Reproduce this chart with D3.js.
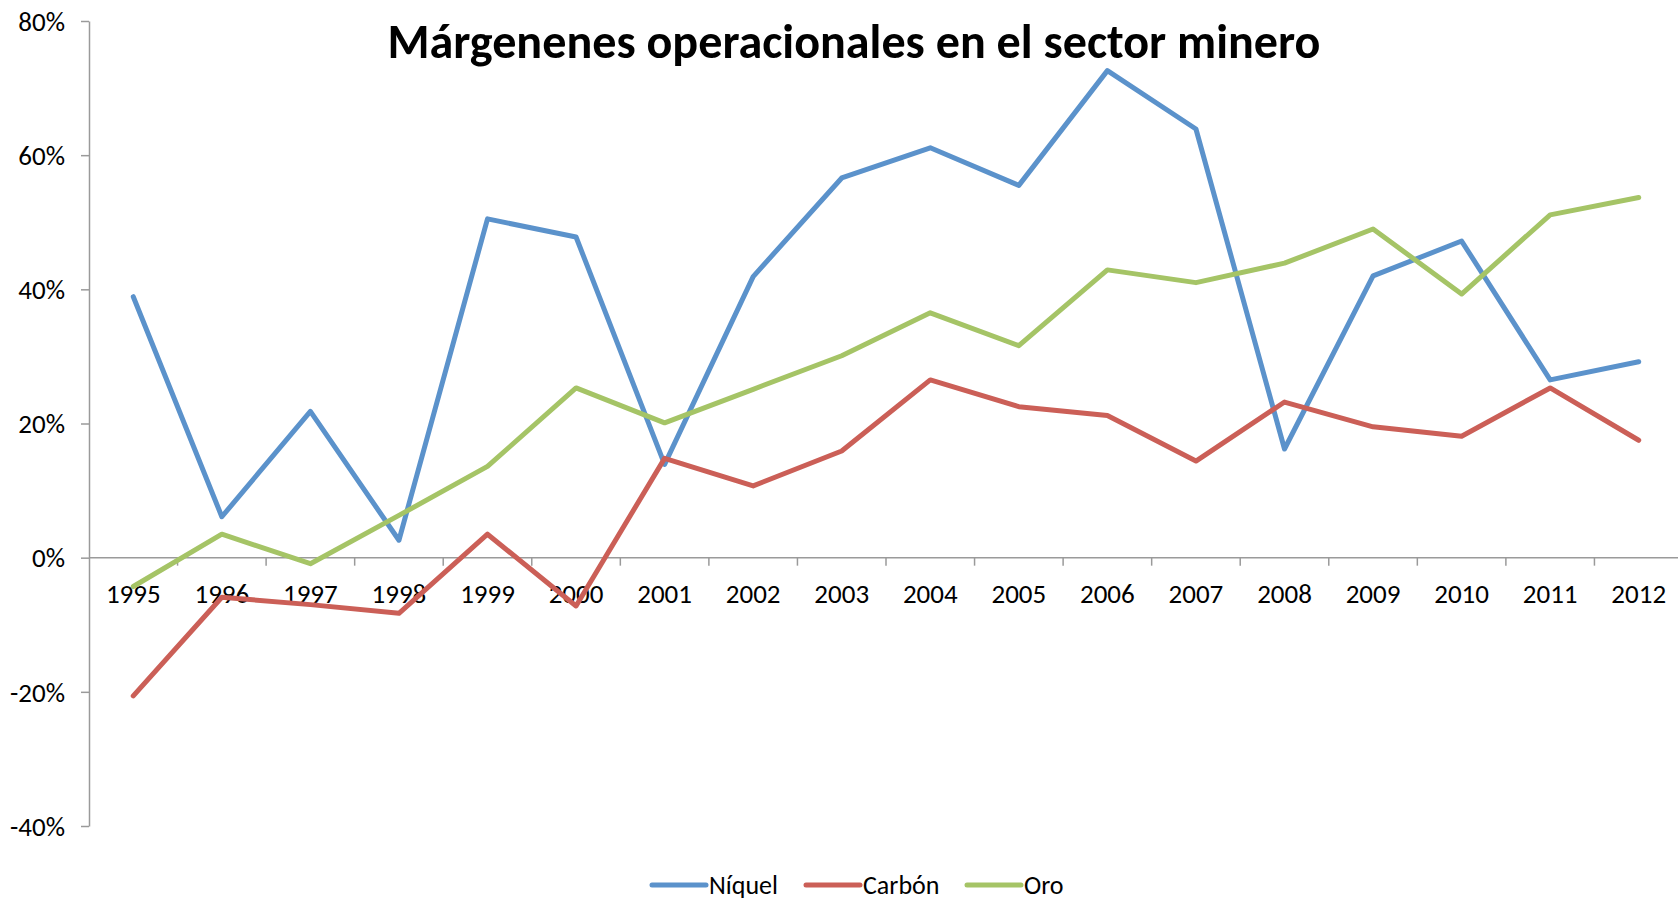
<!DOCTYPE html>
<html>
<head>
<meta charset="utf-8">
<script src="https://cdn.jsdelivr.net/npm/d3@7"></script>
<style>
  body { margin: 0; background: #fff; }
  text { font-family: Carlito, Calibri, Lato, sans-serif; fill: #000; }
</style>
</head>
<body>
<script>
// data
const years = ['1995','1996','1997','1998','1999','2000','2001','2002','2003','2004','2005','2006','2007','2008','2009','2010','2011','2012'];
const niquel = [38.9, 6.1, 21.8, 2.6, 50.5, 47.8, 13.9, 41.9, 56.6, 61.1, 55.5, 72.6, 63.9, 16.2, 42.0, 47.2, 26.5, 29.2];
const carbon = [-20.6, -5.9, -7.0, -8.3, 3.5, -7.2, 14.8, 10.7, 15.9, 26.5, 22.5, 21.2, 14.4, 23.2, 19.5, 18.1, 25.3, 17.5];
const oro = [-4.3, 3.5, -0.9, 6.3, 13.6, 25.3, 20.1, 25.1, 30.1, 36.5, 31.6, 42.9, 41.0, 43.9, 49.0, 39.3, 51.1, 53.7];
const yTicks = [-40, -20, 0, 20, 40, 60, 80];
const seriesNames = ['Níquel', 'Carbón', 'Oro'];
const seriesColors = ['#5b92cb', '#cb5f57', '#a5c466'];
const titleText = 'Márgenenes operacionales en el sector minero';

const W = 1678, H = 902;
const margin = { top: 21, left: 89 };
const plotRight = 1683;   // last category runs past the window edge, as in the original
const plotBottom = 826;

const svg = d3.select('body').append('svg')
  .attr('width', W)
  .attr('height', H);

// set the ranges
const x = d3.scaleBand().domain(years).range([margin.left, plotRight]);
const y = d3.scaleLinear().domain([-40, 80]).range([plotBottom, margin.top]);

// y axis
svg.append('g')
  .attr('transform', 'translate(' + margin.left + ',0)')
  .call(d3.axisLeft(y).tickValues(yTicks).tickSizeInner(8).tickSizeOuter(0)
    .tickPadding(16).tickFormat(d => d + '%'))
  .call(g => g.selectAll('line, path').style('stroke', '#9a9a9a').style('stroke-width', 1.5))
  .call(g => g.selectAll('text').style('font-size', '27px').attr('dy', '0.34em'));

// x axis at zero, ticks between categories
const xAxis = svg.append('g').attr('transform', 'translate(0,' + y(0) + ')');
xAxis.append('line')
  .attr('x1', margin.left).attr('x2', plotRight)
  .style('stroke', '#9a9a9a').style('stroke-width', 1.5);
xAxis.selectAll('.tick')
  .data(years.slice(1))
  .enter().append('line')
  .attr('x1', d => x(d)).attr('x2', d => x(d))
  .attr('y1', 0).attr('y2', 8)
  .style('stroke', '#9a9a9a').style('stroke-width', 1.5);
xAxis.selectAll('.label')
  .data(years)
  .enter().append('text')
  .attr('x', d => x(d) + x.bandwidth() / 2)
  .attr('y', 45)
  .attr('text-anchor', 'middle')
  .style('font-size', '27px')
  .text(d => d);

// lines
const valueline = d3.line()
  .x((d, i) => x(years[i]) + x.bandwidth() / 2)
  .y(d => y(d));

[niquel, carbon, oro].forEach(function(s, i) {
  svg.append('path').datum(s)
    .attr('d', valueline)
    .style('fill', 'none')
    .style('stroke', seriesColors[i])
    .style('stroke-width', 5)
    .style('stroke-linejoin', 'round')
    .style('stroke-linecap', 'round');
});

// title
const title = svg.append('text')
  .attr('x', 854)
  .attr('y', 58)
  .attr('text-anchor', 'middle')
  .style('font-weight', 'bold')
  .style('font-size', '44px')
  .text(titleText);
const tw = title.node().getComputedTextLength();
title.style('font-size', (44 * 933 / tw) + 'px');

// legend
const legendX = [652, 806, 967];
const legend = svg.append('g');
seriesNames.forEach(function(name, i) {
  legend.append('line')
    .attr('x1', legendX[i]).attr('x2', legendX[i] + 54)
    .attr('y1', 885).attr('y2', 885)
    .style('stroke', seriesColors[i])
    .style('stroke-width', 5)
    .style('stroke-linecap', 'round');
  legend.append('text')
    .attr('x', legendX[i] + 57)
    .attr('y', 894)
    .style('font-size', '26px')
    .text(name);
});
</script>
</body>
</html>
